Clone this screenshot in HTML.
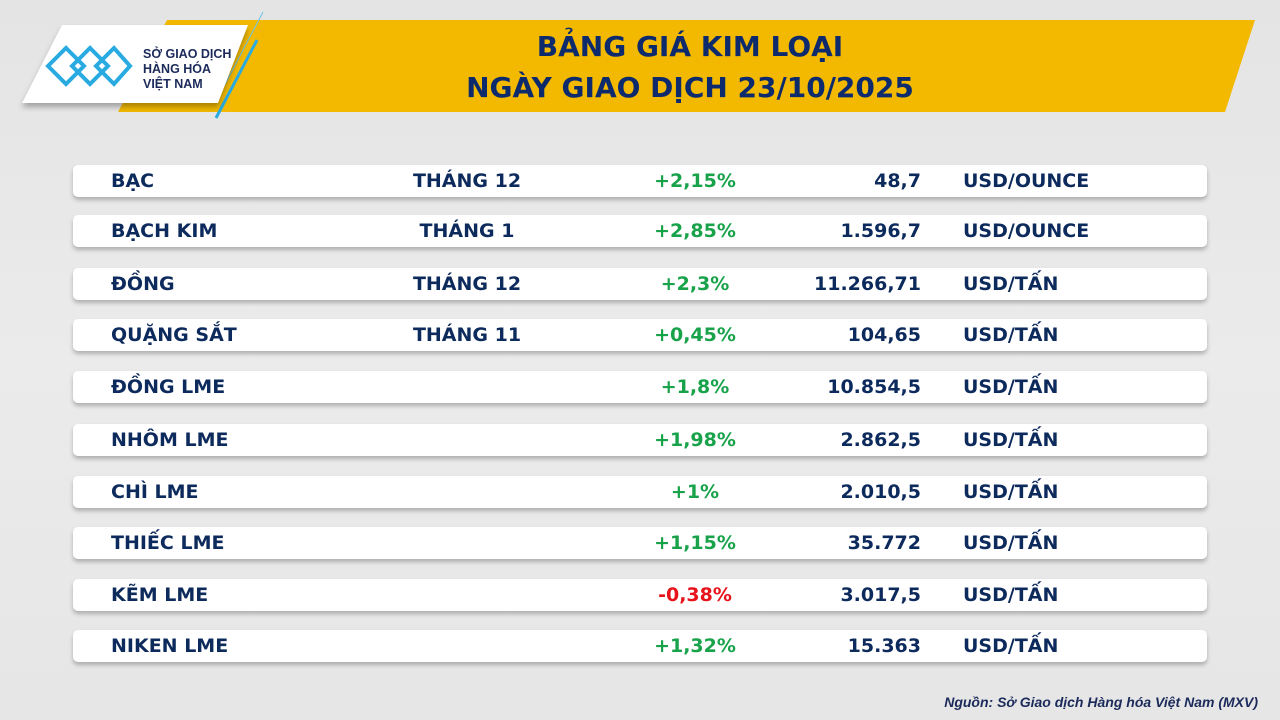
<!DOCTYPE html>
<html><head><meta charset="utf-8"><style>
body{margin:0;width:1280px;height:720px;overflow:hidden;font-family:"DejaVu Sans","Liberation Sans",sans-serif;}
.bg{position:absolute;left:0;top:0;width:1280px;height:720px;background:linear-gradient(180deg,#e4e4e4,#ebebeb 50%,#e6e6e6);}
.row{position:absolute;left:73px;width:1134px;height:32px;background:#fff;border-radius:5px;box-shadow:0 3px 4px rgba(0,0,0,.25);color:#0d2a5c;font-weight:bold;font-size:19px;line-height:32px;}
.row span{position:absolute;top:0;white-space:nowrap}
.n{left:38px}.m{left:294px;width:200px;text-align:center}.p{left:522px;width:200px;text-align:center;color:#18a24a}.v{right:286px;text-align:right}.u{left:890px}
.red{color:#e8121b!important}
</style></head><body>
<div class="bg"></div>
<svg style="position:absolute;left:0;top:0" width="1280" height="720">
<polygon points="167,20 1255,20 1225,112 118,112" fill="#f2b900"/>
<line x1="263" y1="12" x2="222" y2="90" stroke="#6cc4e8" stroke-width="1"/>
<line x1="257" y1="40" x2="216" y2="118" stroke="#29abe2" stroke-width="3"/>
<polygon points="62,25 248,25 218,103 22,103" fill="#fff" style="filter:drop-shadow(0 4px 3px rgba(0,0,0,.3))"/>
<g fill="none" stroke="#29abe2" stroke-width="4">
<path d="M48,66 L66,48 L84,66 L66,84 Z"/><path d="M72,66 L90,48 L108,66 L90,84 Z"/><path d="M96,66 L114,48 L130,66 L114,84 Z"/>
</g>
<text x="143" y="58" font-family="Liberation Sans" font-weight="bold" font-size="12.5" fill="#1b2a5a">SỞ GIAO DỊCH</text>
<text x="143" y="73" font-family="Liberation Sans" font-weight="bold" font-size="12.5" fill="#1b2a5a">HÀNG HÓA</text>
<text x="143" y="88" font-family="Liberation Sans" font-weight="bold" font-size="12.5" fill="#1b2a5a">VIỆT NAM</text>
<text x="690" y="56" text-anchor="middle" font-family="DejaVu Sans" font-weight="bold" font-size="28" fill="#0d2a6c">BẢNG GIÁ KIM LOẠI</text>
<text x="690" y="97" text-anchor="middle" font-family="DejaVu Sans" font-weight="bold" font-size="28" fill="#0d2a6c">NGÀY GIAO DỊCH 23/10/2025</text>
<text x="1258" y="707" text-anchor="end" font-family="Liberation Sans" font-style="italic" font-weight="bold" font-size="14" fill="#1b2a5a">Nguồn: Sở Giao dịch Hàng hóa Việt Nam (MXV)</text>
</svg>
<div class="row" style="top:165px"><span class="n">BẠC</span><span class="m">THÁNG 12</span><span class="p">+2,15%</span><span class="v">48,7</span><span class="u">USD/OUNCE</span></div>
<div class="row" style="top:215px"><span class="n">BẠCH KIM</span><span class="m">THÁNG 1</span><span class="p">+2,85%</span><span class="v">1.596,7</span><span class="u">USD/OUNCE</span></div>
<div class="row" style="top:268px"><span class="n">ĐỒNG</span><span class="m">THÁNG 12</span><span class="p">+2,3%</span><span class="v">11.266,71</span><span class="u">USD/TẤN</span></div>
<div class="row" style="top:319px"><span class="n">QUẶNG SẮT</span><span class="m">THÁNG 11</span><span class="p">+0,45%</span><span class="v">104,65</span><span class="u">USD/TẤN</span></div>
<div class="row" style="top:371px"><span class="n">ĐỒNG LME</span><span class="p">+1,8%</span><span class="v">10.854,5</span><span class="u">USD/TẤN</span></div>
<div class="row" style="top:424px"><span class="n">NHÔM LME</span><span class="p">+1,98%</span><span class="v">2.862,5</span><span class="u">USD/TẤN</span></div>
<div class="row" style="top:476px"><span class="n">CHÌ LME</span><span class="p">+1%</span><span class="v">2.010,5</span><span class="u">USD/TẤN</span></div>
<div class="row" style="top:527px"><span class="n">THIẾC LME</span><span class="p">+1,15%</span><span class="v">35.772</span><span class="u">USD/TẤN</span></div>
<div class="row" style="top:579px"><span class="n">KẼM LME</span><span class="p red">-0,38%</span><span class="v">3.017,5</span><span class="u">USD/TẤN</span></div>
<div class="row" style="top:630px"><span class="n">NIKEN LME</span><span class="p">+1,32%</span><span class="v">15.363</span><span class="u">USD/TẤN</span></div>
</body></html>
